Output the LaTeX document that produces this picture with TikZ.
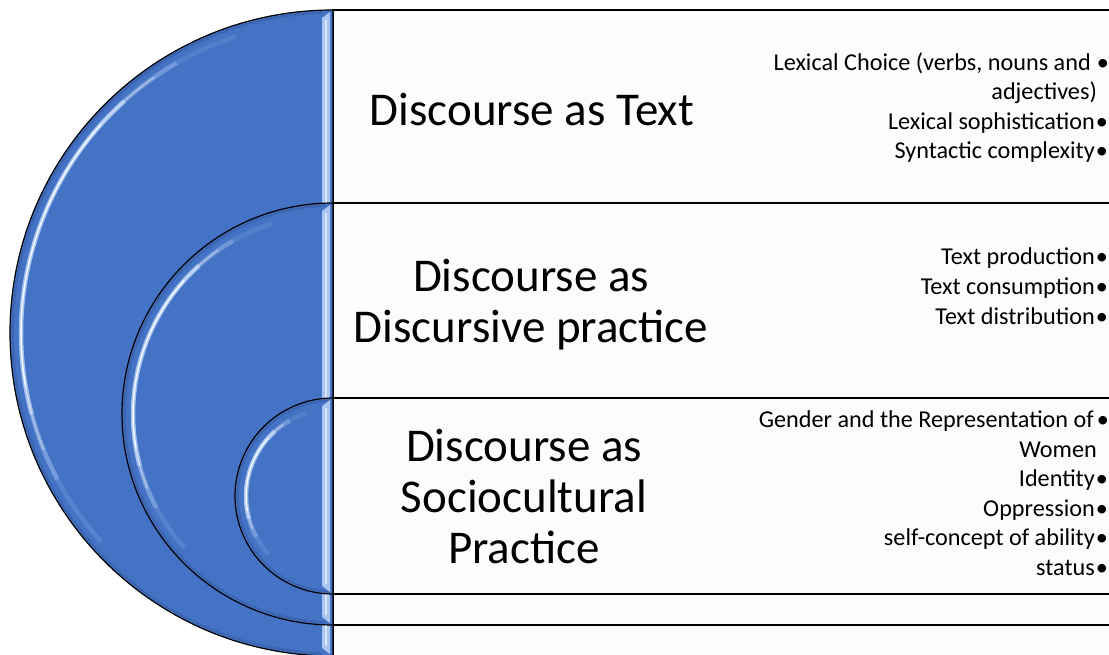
\documentclass[tikz,border=0pt]{standalone}
\usepackage{fontspec}
\setmainfont{Carlito}
\definecolor{tblue}{HTML}{4472C4}
\definecolor{tdark}{HTML}{3C66B2}
\definecolor{hl}{HTML}{A9C6F2}
\definecolor{boxfill}{HTML}{FCFCFC}
\newcommand\hdisk[3]{%
  \draw[disk] (#1,#2-#3) arc[start angle=-90,end angle=-270,radius=#3] -- cycle;
  \draw[tdark, line width=2.5pt] ({#1+(#3-2.5)*cos(-92)},{#2+(#3-2.5)*sin(-92)}) arc[start angle=-92,end angle=-268,radius=#3-2.5];
  \foreach \a/\b/\o in {-108/-120/0.15,-120/-132/0.45,-132/-195/0.95,-195/-208/0.5,-208/-222/0.2}
    \draw[hl, line width=4.5pt, opacity=\o] ({#1+(#3-11)*cos(\a)},{#2+(#3-11)*sin(\a)}) arc[start angle=\a,end angle=\b,radius=#3-11];
  \foreach \a/\b/\o in {-125/-138/0.4,-138/-190/0.9,-190/-202/0.4}
    \draw[white, line width=1.5pt, opacity=\o] ({#1+(#3-11)*cos(\a)},{#2+(#3-11)*sin(\a)}) arc[start angle=\a,end angle=\b,radius=#3-11];
  \fill[hl] (322,#2-#3+8) -- (330,#2-#3+2) -- (330,#2+#3-2) -- (322,#2+#3-8) -- cycle;
  \draw[white, opacity=0.6, line width=1.2pt] (326,#2-#3+10) -- (326,#2+#3-10);
}
\begin{document}
\begin{tikzpicture}[x=1pt,y=-1pt,
  panel/.style={fill=boxfill, draw=black, line width=1.6pt},
  disk/.style={fill=tblue, draw=black, line width=1.2pt},
  title/.style={font=\fontsize{47}{51}\selectfont, align=center, inner sep=0pt},
  item/.style={font=\fontsize{24.2}{29.5}\selectfont, inner sep=0pt, anchor=base east},
  dot/.style={font=\fontsize{24.2}{29.5}\selectfont, inner sep=0pt, anchor=base}
]
\clip (0,0) rectangle (1109,655);
\fill[white] (0,0) rectangle (1109,655);
% panels
\draw[panel] (333,10) rectangle (1125,656.5);
\draw[panel] (333,203) rectangle (1125,625);
\draw[panel] (333,398) rectangle (1125,594);
% half disks
\hdisk{333}{333}{323}
\hdisk{333}{414}{211}
\hdisk{333}{496}{98}
% titles
\node[title] (t1) at (532,110) {Discourse as Text};
\node[title] (t2) at (531,305) {Discourse as\\Discursive practice};
\node[title] (t3) at (524,497) {Discourse as\\Sociocultural\\Practice};
% box 1 items
\node[item] (a1) at (1091,70.5) {Lexical Choice (verbs, nouns and};
\node[item] (a2) at (1097,100) {adjectives)};
\node[item] (a3) at (1095,129.5) {Lexical sophistication};
\node[item] (a4) at (1095,159) {Syntactic complexity};
\node[dot] (da1) at (1103,70.5) {•};
\node[dot] (da3) at (1102,129.5) {•};
\node[dot] (da4) at (1102,159) {•};
% box 2 items
\node[item] (b1) at (1095,264.5) {Text production};
\node[item] (b2) at (1095,294.5) {Text consumption};
\node[item] (b3) at (1095,324.5) {Text distribution};
\node[dot] (db1) at (1102,264.5) {•};
\node[dot] (db2) at (1102,294.5) {•};
\node[dot] (db3) at (1102,324.5) {•};
% box 3 items
\node[item] (c1) at (1094,427.5) {Gender and the Representation of};
\node[item] (c2) at (1097,457) {Women};
\node[item] (c3) at (1095,486.5) {Identity};
\node[item] (c4) at (1095,516) {Oppression};
\node[item] (c5) at (1095,545.5) {self-concept of ability};
\node[item] (c6) at (1095,575) {status};
\node[dot] (dc1) at (1103,427.5) {•};
\node[dot] (dc3) at (1102,486.5) {•};
\node[dot] (dc4) at (1102,516) {•};
\node[dot] (dc5) at (1102,545.5) {•};
\node[dot] (dc6) at (1102,575) {•};
\end{tikzpicture}
\end{document}
